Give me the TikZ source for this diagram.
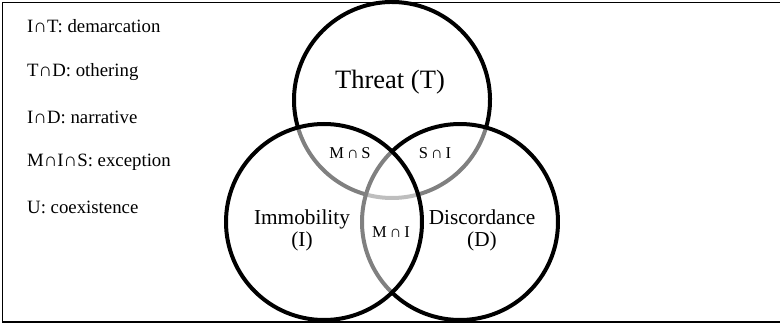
\documentclass[tikz,border=0pt]{standalone}
\usepackage{fontspec}
\setmainfont{Liberation Serif}
\usepackage{xcolor}
\usepackage{tikz}
\usetikzlibrary{calc}
\definecolor{ring}{HTML}{000000}
\definecolor{overlap}{HTML}{808080}
\definecolor{core}{HTML}{BEBEBE}

\begin{document}
\begin{tikzpicture}[
    x=1pt, y=1pt,
    legend/.style={anchor=west, font=\fontsize{18.8}{21}\selectfont, inner sep=0pt},
    setname/.style={align=center, font=\fontsize{21.3}{22}\selectfont, inner sep=0pt},
    zone/.style={font=\fontsize{16.5}{18}\selectfont, inner sep=0pt},
    ringarc/.style={draw=#1, line width=4pt},
  ]
  \useasboundingbox (0,0) rectangle (780,324);
  \draw[line width=1.5pt] (781,321.5) -- (2.5,321.5) -- (2.5,2) -- (781,2);
  \coordinate (T) at (392,224);
  \coordinate (L) at (324,102);
  \coordinate (R) at (460,102);
  \draw[ringarc=core] (T) ++(254.60:98) arc[start angle=254.60, end angle=285.40, radius=98];
  \draw[ringarc=overlap] (T) ++(196.32:98) arc[start angle=196.32, end angle=254.60, radius=98];
  \draw[ringarc=overlap] (T) ++(285.40:98) arc[start angle=285.40, end angle=343.68, radius=98];
  \draw[ringarc=overlap] (R) ++(133.94:98) arc[start angle=133.94, end angle=226.06, radius=98];
  \draw[ringarc=ring] (T) ++(343.68:98) arc[start angle=343.68, end angle=556.32, radius=98];
  \draw[ringarc=ring] (R) ++(226.06:98) arc[start angle=226.06, end angle=493.94, radius=98];
  \draw[ringarc=ring] (L) circle[radius=98];
  \node[setname, font=\fontsize{26.5}{28}\selectfont] (threat) at (390,242) {Threat (T)};
  \node[setname] (immobility) at (302,94) {Immobility\\(I)};
  \node[setname] (discordance) at (482,94) {Discordance\\(D)};
  \node[zone] (ms) at (350,171) {M\,∩\,S};
  \node[zone] (si) at (435,171) {S\,∩\,I};
  \node[zone] (mi) at (391,92) {M\,∩\,I};
  \node[legend] (it) at (27,298) {I∩T: demarcation};
  \node[legend] (td) at (27,252) {T∩D: othering};
  \node[legend] (id) at (27,207) {I∩D: narrative};
  \node[legend] (mis) at (27,162) {M∩I∩S: exception};
  \node[legend] (u) at (27,117) {U: coexistence};
\end{tikzpicture}
\end{document}
